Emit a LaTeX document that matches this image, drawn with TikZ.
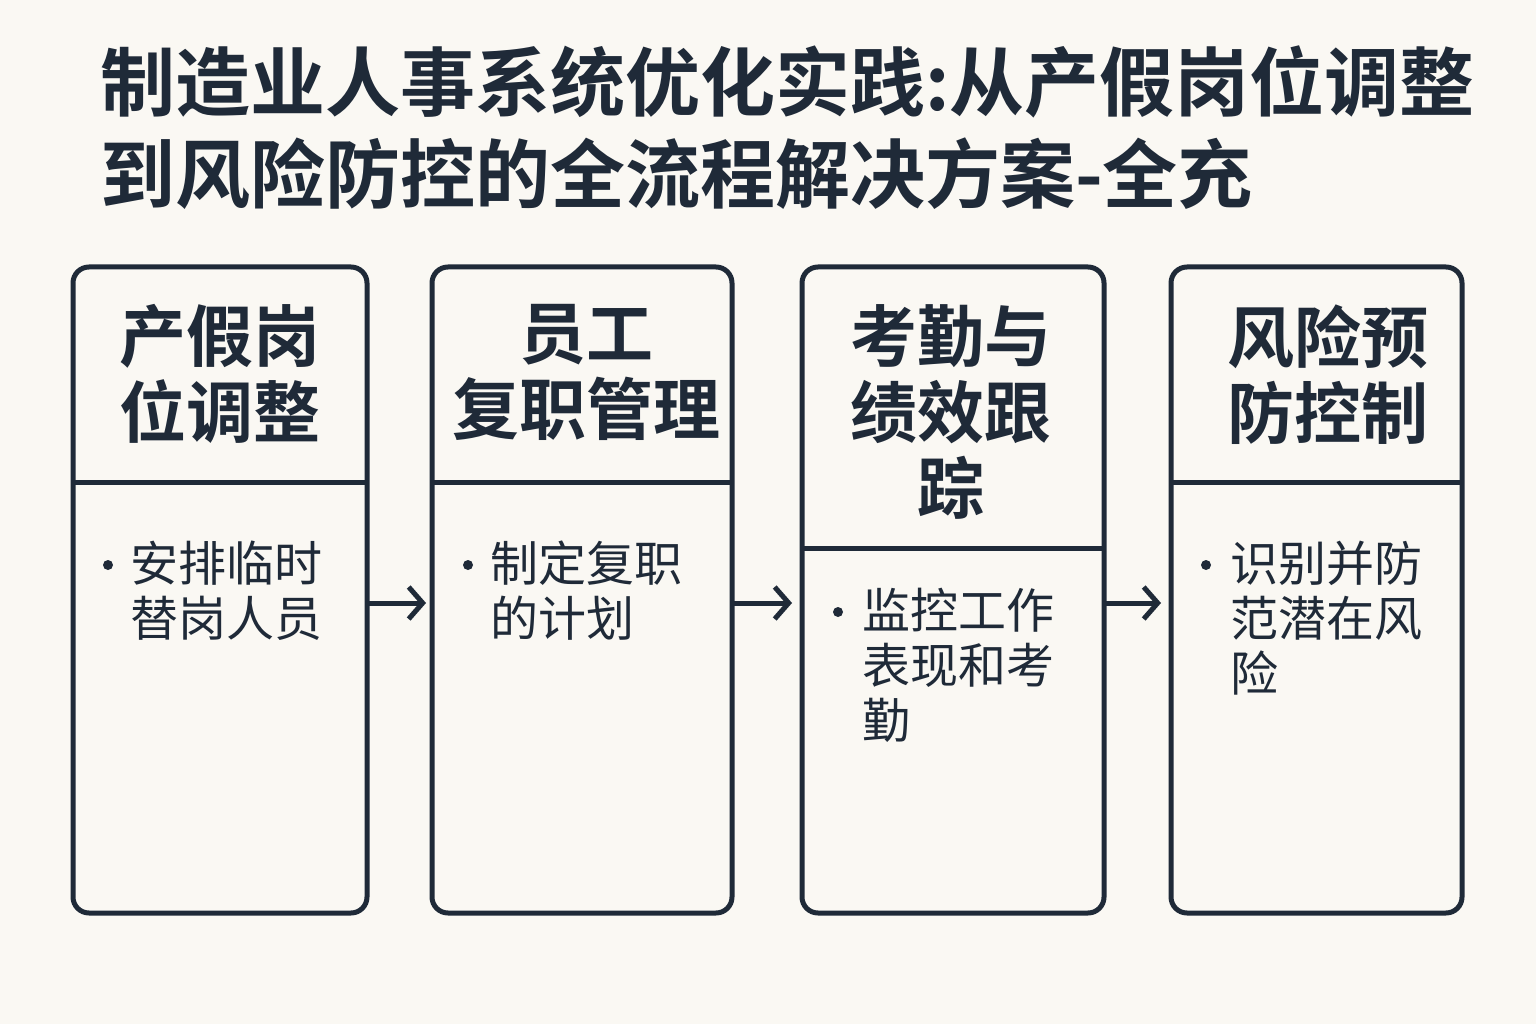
\documentclass[tikz,border=0pt]{standalone}
\usepackage{fontspec}
\setmainfont{Noto Sans CJK SC}
\newfontfamily\cjkb{Noto Sans CJK SC Bold}
\usetikzlibrary{arrows.meta}
\definecolor{ink}{HTML}{1F2A38}
\definecolor{bg}{HTML}{FAF8F3}
\tikzset{
 box/.style={draw=ink,line width=5pt,rounded corners=16pt},
 head/.style={text=ink,font=\cjkb\fontsize{67}{76}\selectfont,align=center,anchor=north},
 body/.style={text=ink,font=\fontsize{48}{55}\selectfont,align=left,anchor=north west,inner sep=0pt},
 flow/.style={draw=ink,line width=5pt,-{Straight Barb[length=14pt,width=32pt,line width=5pt]}}
}
\begin{document}
\begin{tikzpicture}[x=1pt,y=-1pt]
\fill[bg] (0,0) rectangle (1536,1024);
\useasboundingbox (0,0) rectangle (1536,1024);
\node[text=ink,font=\cjkb\fontsize{75}{92}\selectfont,align=left,anchor=north west,inner sep=0pt] (title) at (100,46)
 {制造业人事系统优化实践:从产假岗位调整\\到风险防控的全流程解决方案-全充};
\foreach \n/\a/\b/\d in {1/73/367/482,2/432/732/482,3/802/1104/548,4/1171/1462/482}{
 \draw[box] (\a,267) rectangle (\b,913);
 \draw[ink,line width=5pt] (\a,\d) -- (\b,\d);
 \coordinate (b\n l) at (\a,603); \coordinate (b\n r) at (\b,603);
}
\node[head] (h1) at (220,301) {产假岗\\位调整};
\node[head] (h2) at (586,301) {员工\\复职管理};
\node[head] (h3) at (951,301) {考勤与\\绩效跟\\踪};
\node[head] (h4) at (1328,301) {风险预\\防控制};
\node[body] (t1) at (130,541) {安排临时\\替岗人员};
\node[body] (t2) at (490,541) {制定复职\\的计划};
\node[body] (t3) at (862,588) {监控工作\\表现和考\\勤};
\node[body] (t4) at (1230,541) {识别并防\\范潜在风\\险};
\foreach \x/\y in {108/565,468/565,838/612,1206/565} \fill[ink] (\x,\y) circle (5pt);
\draw[flow] (b1r) -- ([xshift=-6pt]b2l);
\draw[flow] (b2r) -- ([xshift=-10pt]b3l);
\draw[flow] (b3r) -- ([xshift=-10pt]b4l);
\end{tikzpicture}
\end{document}
